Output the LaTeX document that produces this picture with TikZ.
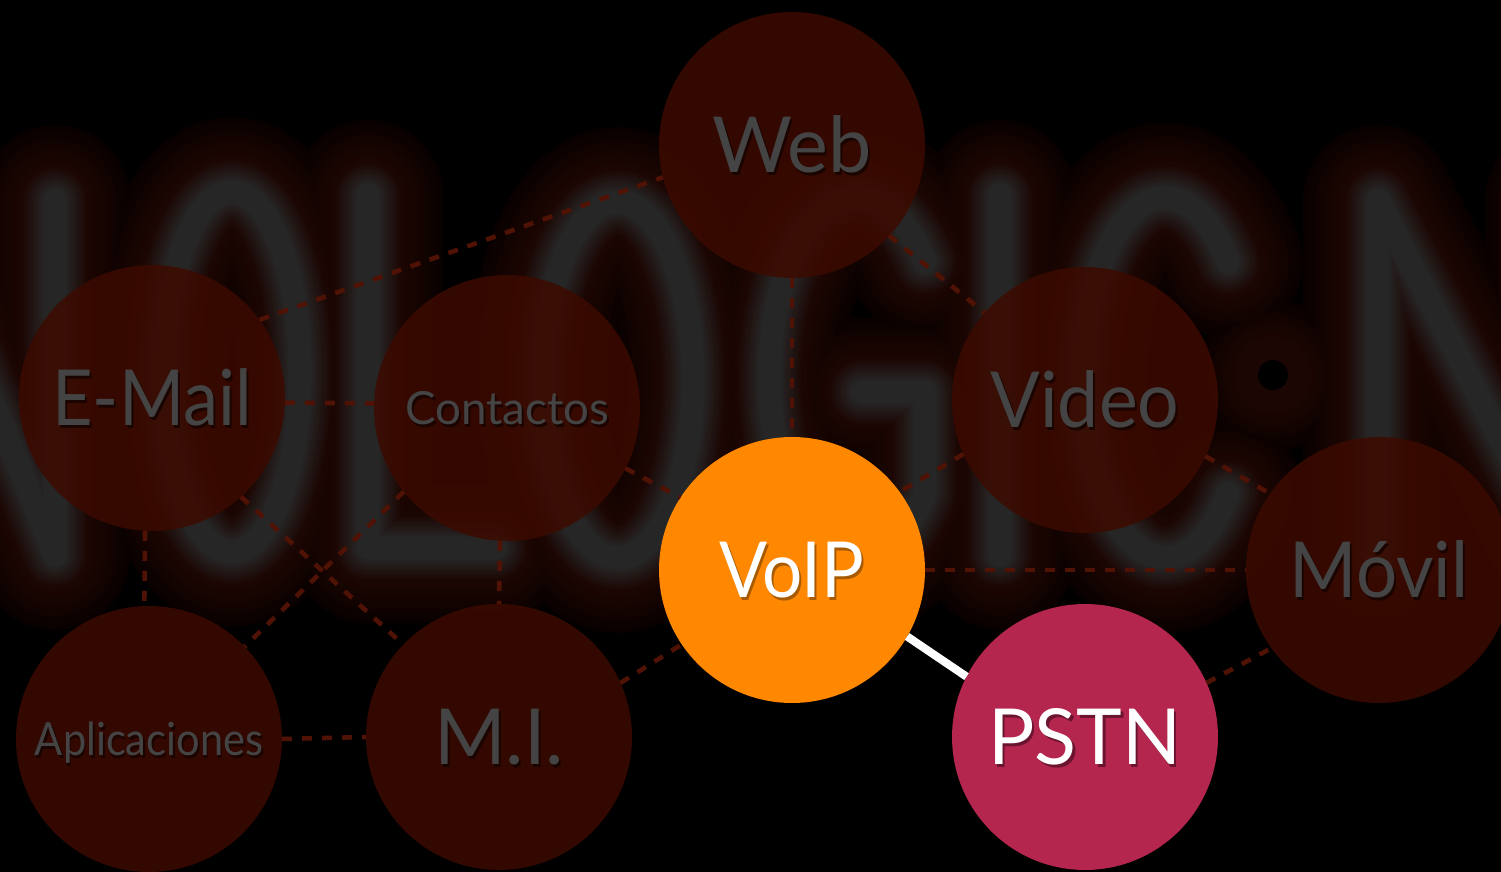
\documentclass[tikz,border=0pt]{standalone}
\usepackage{fontspec}
\setmainfont{Lato}
\definecolor{bubred}{HTML}{3C0A00}
\definecolor{dimtext}{HTML}{444444}
\definecolor{dimshadow}{HTML}{1A0400}
\definecolor{linered}{HTML}{4F1204}
\definecolor{voiporange}{HTML}{FF8800}
\definecolor{voipshadow}{HTML}{A85A00}
\definecolor{pstnred}{HTML}{B4264E}
\definecolor{pstnshadow}{HTML}{6A1430}
\definecolor{gDark}{HTML}{090100}
\definecolor{gRed}{HTML}{1C0603}
\definecolor{gGray}{HTML}{262626}
\newcommand\shd[2]{\makebox[0pt][l]{\hspace{1.2pt}\raisebox{-1.6pt}{\color{#1}#2}}#2}
\def\letterpaths{(-90,555)--(-90,200)--(55,555)--(55,200)
  (232,372) ellipse [x radius=68, y radius=180]
  (368,195)--(368,548)--(495,548)
  (618,380) ellipse [x radius=75, y radius=178]
  (925,262) arc [start angle=-40, end angle=-320, x radius=88, y radius=180] -- (925,392) -- (862,392)
  (1000,195)--(1000,555)
  (1228,262) arc [start angle=-40, end angle=-320, x radius=82, y radius=180]
  (1378,555)--(1378,200)--(1560,555)--(1560,200)}
\def\colonpath{(1273,375) circle [radius=1]}
\begin{document}
\begin{tikzpicture}[x=0.02cm,y=-0.02cm,
  bub/.style={circle,minimum size=5.32cm,inner sep=0pt,outer sep=0pt},
  dim/.style={bub,fill=bubred,fill opacity=0.85,text opacity=1,text=dimtext},
  big/.style={font=\fontsize{44pt}{44pt}\selectfont,text height=31.5pt,text depth=0pt},
  small/.style={font=\fontsize{26pt}{26pt}\selectfont,text height=18.6pt,text depth=0pt},
  dline/.style={draw=linered,line width=2.6pt,dash pattern=on 5.7pt off 5.7pt},
  solidlink/.style={draw=white,line width=4.6pt},
  glow/.style={line cap=round,line join=round}]
\useasboundingbox (0,0) rectangle (1501,872);
\fill[black] (0,0) rectangle (1501,872);
% faint background lettering with glow
\begin{scope}
\clip (0,0) rectangle (1501,872);
\foreach \i in {0,...,11}{
  \pgfmathsetmacro\wd{(150-7*\i)*0.569}
  \pgfmathtruncatemacro\pc{\i*100/11}
  \colorlet{glowc}{gRed!\pc!gDark}
  \draw[glow,line width=\wd pt,color=glowc] \letterpaths \colonpath;
}
\foreach \i in {0,...,9}{
  \pgfmathsetmacro\wd{(68-5*\i)*0.569}
  \pgfmathtruncatemacro\pc{\i*100/9}
  \colorlet{glowc}{gGray!\pc!gRed}
  \draw[glow,line width=\wd pt,color=glowc] \letterpaths;
}
\fill[black] (1273,375) circle [radius=15];
\end{scope}
% nodes
\node[dim,big] (web) at (792,145) {\shd{dimshadow}{Web}};
\node[dim,big] (email) at (152,398) {\scalebox{0.91}[1]{\shd{dimshadow}{E-Mail}}};
\node[dim,small] (contactos) at (507,408) {\shd{dimshadow}{Contactos}};
\node[dim,big] (video) at (1085,400) {\scalebox{0.95}[1]{\shd{dimshadow}{Video}}};
\node[dim,big] (movil) at (1379,570) {\scalebox{0.94}[1]{\shd{dimshadow}{Móvil}}};
\node[dim,small] (apl) at (149,739) {\scalebox{0.91}[1]{\shd{dimshadow}{Aplicaciones}}};
\node[dim,big] (mi) at (499,737) {\shd{dimshadow}{M.I.}};
\node[bub,big,fill=voiporange,text=white] (voip) at (792,570) {\scalebox{0.92}[1]{\shd{voipshadow}{VoIP}}};
\node[bub,big,fill=pstnred,text=white] (pstn) at (1085,737) {\shd{pstnshadow}{PSTN}};
% dashed connectors
\draw[dline] (email.36) -- (web.194);
\draw[dline] (email.-2) -- (contactos.178);
\draw[dline] (email.267) -- (apl.92);
\draw[dline] (email.-48) -- (mi.136);
\draw[dline] (contactos.219) -- (apl.44);
\draw[dline] (contactos.267) -- (mi.90);
\draw[dline] (contactos.-27) -- (voip.147);
\draw[dline] (web.270) -- (voip.90);
\draw[dline] (web.-43) -- (video.139);
\draw[dline] (video.204) -- (voip.36);
\draw[dline] (video.-25) -- (movil.145);
\draw[dline] (voip.0) -- (movil.180);
\draw[dline] (pstn.24) -- (movil.216);
\draw[dline] (apl.0) -- (mi.180);
\draw[dline] (mi.24) -- (voip.214);
% solid connector
\draw[solidlink] (voip.-30) -- (pstn.153);
\end{tikzpicture}
\end{document}
